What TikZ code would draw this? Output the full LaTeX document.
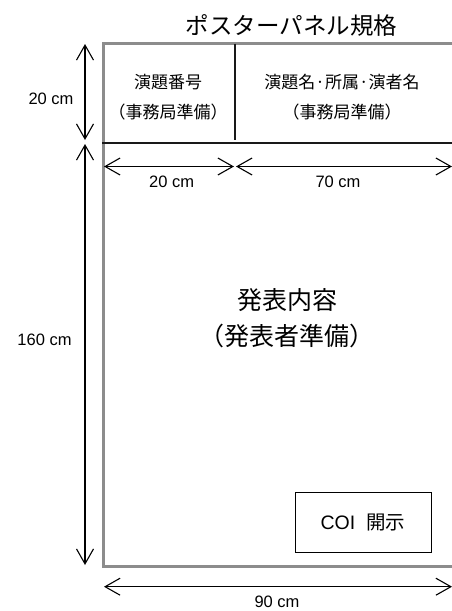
\documentclass[tikz,border=0pt]{standalone}
\usepackage{fontspec}
\setmainfont{Liberation Sans}
\newfontfamily\jp{Noto Sans CJK JP}
\usetikzlibrary{arrows.meta, positioning}

\begin{document}
\begin{tikzpicture}[x=1pt, y=-1pt,
        frame/.style={draw=black!45, line width=3pt},
        divider/.style={draw=black!90, line width=1.6pt},
        dim/.style={line width=1.5pt, {Straight Barb[length=15pt, width=17pt, line width=1.1pt]}-{Straight Barb[length=15pt, width=17pt, line width=1.1pt]}},
        dimlabel/.style={font=\fontsize{16.5}{20}\selectfont},
        jptext/.style={font=\jp\fontsize{17}{30}\selectfont, align=center}]

            \useasboundingbox (0,0) rectangle (452,611);
            \clip (0,0) rectangle (452,611);

            % poster frame
            \coordinate (TL) at (103.5,43.5);
            \coordinate (BR) at (470,566.5);
            \draw[frame] (TL) rectangle (BR);

            \coordinate (H0) at (102,142.7);
            \coordinate (H1) at (470,142.7);
            \coordinate (V0) at (234.7,43.5);
            \coordinate (V1) at (234.7,140);
            \draw[divider] (H0) -- (H1);
            \draw[divider] (V0) -- (V1);

            \node[font=\jp\fontsize{23.5}{28}\selectfont] (title) at (291.5,25) {ポスターパネル規格};
            \node[jptext] (number) at (168,97) {演題番号\\（事務局準備）};
            \node[jptext] (name) at (342,97) {演題名·所属·演者名\\（事務局準備）};
            \node[font=\jp\fontsize{25}{36}\selectfont, align=center] (content) at (287,318) {発表内容\\（発表者準備）};
            \node[draw, line width=1pt, minimum width=136pt, minimum height=60pt,
                  font=\fontsize{19.5}{22}\selectfont] (coi) at (363,522.7) {COI\hspace{11pt}{\jp 開示}};

            % dimension lines
            \coordinate (L0) at (85,44);
            \coordinate (L1) at (85,140);
            \coordinate (L2) at (85,144);
            \coordinate (L3) at (85,565);
            \coordinate (T0) at (104,166.5);
            \coordinate (T1) at (234,166.5);
            \coordinate (T2) at (236,166.5);
            \coordinate (T3) at (452,166.5);
            \coordinate (B0) at (104,586.7);
            \coordinate (B1) at (452,586.7);

            \draw[dim] (L0) -- (L1);
            \draw[dim] (L2) -- (L3);
            \draw[dim] (T0) -- (T1);
            \draw[dim] (T2) -- (T3);
            \draw[dim] (B0) -- (B1);

            \node[dimlabel] (h20) at (51,99) {20 cm};
            \node[dimlabel] (h160) at (44.5,340) {160 cm};
            \node[dimlabel] (w20) at (171.7,182) {20 cm};
            \node[dimlabel] (w70) at (338,182) {70 cm};
            \node[dimlabel, inner sep=1pt] (w90) at (277,601.5) {90 cm};

        \end{tikzpicture}
\end{document}
